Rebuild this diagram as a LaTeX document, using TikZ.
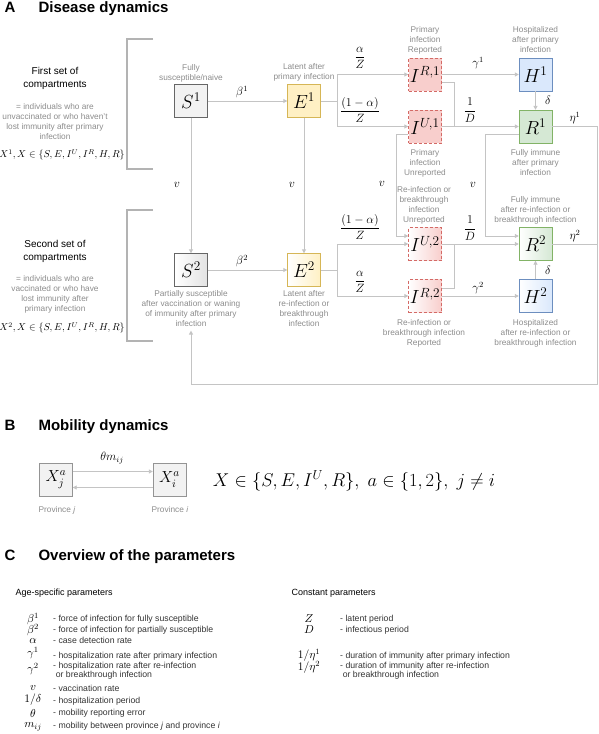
\documentclass[tikz,border=0pt]{standalone}
\usepackage{fix-cm}
\usepackage{amsmath}
\usepackage[no-math]{fontspec}
\setmainfont{Liberation Sans}
\usetikzlibrary{arrows.meta, positioning}

\definecolor{linegray}{HTML}{C4C4C4}
\definecolor{txtgray}{HTML}{8C8C8C}
\definecolor{brgray}{HTML}{B3B3B3}
\definecolor{sfill}{HTML}{F2F2F2}
\definecolor{sdraw}{HTML}{666666}
\definecolor{efill}{HTML}{FFF0C4}
\definecolor{edraw}{HTML}{D6B656}
\definecolor{ifill}{HTML}{F8CECC}
\definecolor{idraw}{HTML}{D46A66}
\definecolor{hfill}{HTML}{DAE8FC}
\definecolor{hdraw}{HTML}{6C8EBF}
\definecolor{rfill}{HTML}{D5E8D4}
\definecolor{rdraw}{HTML}{82B366}

\begin{document}
\begin{tikzpicture}[
    x=1pt, y=-1pt,
    box/.style={rectangle, draw, minimum size=33pt, inner sep=0pt, font=\fontsize{19}{22}\selectfont},
    sbox/.style={box, fill=sfill, draw=sdraw},
    ebox/.style={box, fill=efill, draw=edraw},
    ibox/.style={box, fill=ifill, draw=idraw, densely dashed},
    hbox/.style={box, fill=hfill, draw=hdraw},
    rbox/.style={box, fill=rfill, draw=rdraw},
    shaded/.style={left color=white, right color=#1},
    line/.style={draw=linegray, line width=0.9pt},
    arrow/.style={line, -{Triangle[length=4pt, width=4pt]}},
    bracket/.style={draw=brgray, line width=1.8pt},
    lbl/.style={font=\fontsize{8.3}{10}\selectfont, text=txtgray, align=center},
    sets/.style={font=\fontsize{10}{13}\selectfont, align=center},
    rate/.style={font=\fontsize{12}{14}\selectfont},
    title/.style={font=\fontsize{15}{18}\selectfont\bfseries, anchor=base west},
    head/.style={font=\fontsize{9}{11}\selectfont, anchor=west},
    sym/.style={font=\fontsize{11.5}{13}\selectfont, inner sep=1pt},
    desc/.style={font=\fontsize{8.7}{9.5}\selectfont, text=black!80, anchor=west, align=left, inner sep=1pt}
]
\useasboundingbox (0,0) rectangle (598,734);

% ============ A: DISEASE DYNAMICS ============
\node[title] (tA) at (1,12) {A};
\node[title] (tAname) at (35,12) {Disease dynamics};

% first set of compartments
\node[sets] (set1) at (55,78.5) {First set of\\compartments};
\node[lbl] (set1txt) at (55,122) {= individuals who are\\unvaccinated or who haven't\\lost immunity after primary\\infection};
\node[sets] (set1math) at (62,155) {$X^1, X\in\{S,E,I^U,I^R,H,R\}$};
\draw[bracket] (153,39) -- (127,39) -- (127,169) -- (153,169);

% second set of compartments
\node[sets] (set2) at (55,251) {Second set of\\compartments};
\node[lbl] (set2txt) at (55,294) {= individuals who are\\vaccinated or who have\\lost immunity after\\primary infection};
\node[sets] (set2math) at (62,328) {$X^2, X\in\{S,E,I^U,I^R,H,R\}$};
\draw[bracket] (153,210) -- (127,210) -- (127,341) -- (153,341);

% compartments, first set
\node[sbox] (S1) at (191,101) {$S^1$};
\node[ebox] (E1) at (304,101) {$E^1$};
\node[ibox] (IR1) at (425,74.5) {$I^{R,1}$};
\node[hbox] (H1) at (535.5,74.5) {$H^1$};
\node[ibox] (IU1) at (425,126.5) {$I^{U,1}$};
\node[rbox] (R1) at (535.5,126.5) {$R^1$};

% compartments, second set
\node[sbox, shaded=sfill!70!gray!60] (S2) at (191,270) {$S^2$};
\node[ebox, shaded=efill] (E2) at (304,270) {$E^2$};
\node[ibox, shaded=ifill] (IU2) at (425,244) {$I^{U,2}$};
\node[rbox, shaded=rfill] (R2) at (535.5,244) {$R^2$};
\node[ibox, shaded=ifill] (IR2) at (425,296) {$I^{R,2}$};
\node[hbox, shaded=hfill] (H2) at (535.5,296) {$H^2$};

% descriptions of the compartments
\node[lbl] (S1lbl) at (191,73) {Fully\\susceptible/naive};
\node[lbl] (E1lbl) at (304,72.5) {Latent after\\primary infection};
\node[lbl] (IR1lbl) at (425,40) {Primary\\infection\\Reported};
\node[lbl] (H1lbl) at (535.5,40) {Hospitalized\\after primary\\infection};
\node[lbl] (IU1lbl) at (425,163) {Primary\\infection\\Unreported};
\node[lbl] (R1lbl) at (535.5,163) {Fully immune\\after primary\\infection};
\node[lbl] (IU2lbl) at (424,205) {Re-infection or\\breakthrough\\infection\\Unreported};
\node[lbl] (R2lbl) at (535.5,210) {Fully immune\\after re-infection or\\breakthrough infection};
\node[lbl] (S2lbl) at (191,309) {Partially susceptible\\after vaccination or waning\\of immunity after primary\\infection};
\node[lbl] (E2lbl) at (304,309) {Latent after\\re-infection or\\breakthrough\\infection};
\node[lbl] (IR2lbl) at (424,333) {Re-infection or\\breakthrough infection\\Reported};
\node[lbl] (H2lbl) at (535.5,333) {Hospitalized\\after re-infection or\\breakthrough infection};

% rates
\node[rate] (b1) at (242,92) {$\beta^1$};
\node[rate] (b2) at (242,261) {$\beta^2$};
\node[rate] (v1) at (177,185) {$v$};
\node[rate] (v2) at (292,185) {$v$};
\node[rate] (v3) at (382,184) {$v$};
\node[rate] (v4) at (473,185) {$v$};
\node[rate] (a1) at (360,58) {$\dfrac{\alpha}{Z}$};
\node[rate] (na1) at (360,110) {$\dfrac{(1-\alpha)}{Z}$};
\node[rate] (na2) at (360,227) {$\dfrac{(1-\alpha)}{Z}$};
\node[rate] (a2) at (360,282) {$\dfrac{\alpha}{Z}$};
\node[rate] (g1) at (478,63) {$\gamma^1$};
\node[rate] (g2) at (478,288) {$\gamma^2$};
\node[rate] (D1) at (470,110) {$\dfrac{1}{D}$};
\node[rate] (D2) at (470,228) {$\dfrac{1}{D}$};
\node[rate] (dl1) at (548,100) {$\delta$};
\node[rate] (dl2) at (548,270) {$\delta$};
\node[rate] (et1) at (575,118) {$\eta^1$};
\node[rate] (et2) at (575,236) {$\eta^2$};

% flows, first set
\draw[arrow] (S1) -- (E1);
\draw[arrow] (S1) -- (S2);
\draw[arrow] (E1) -- (E2);
\coordinate (sp1) at (337,101);
\draw[line] (E1) -- (sp1);
\draw[arrow] (sp1) |- (IR1);
\draw[arrow] (sp1) |- (IU1);
\draw[arrow] (IR1) -- (H1);
\coordinate (jn1) at (454,126.5);
\draw[line] ([yshift=-8pt]IR1.east) -| (jn1);
\draw[arrow] (IU1) -- (R1);
\draw[arrow] (H1) -- (R1);
\draw[arrow] ([yshift=-7.5pt]IU1.west) -- ++(-12,0) |- ([yshift=8pt]IU2.west);
\draw[arrow] ([yshift=-7.5pt]R1.west) -- ++(-33,0) |- ([yshift=8pt]R2.west);

% flows, second set
\draw[arrow] (S2) -- (E2);
\coordinate (sp2) at (337,270);
\draw[line] (E2) -- (sp2);
\draw[arrow] (sp2) |- (IU2);
\draw[arrow] (sp2) |- (IR2);
\draw[arrow] (IR2) -- (H2);
\coordinate (jn2) at (454,244);
\draw[line] ([yshift=8pt]IR2.east) -| (jn2);
\draw[arrow] (IU2) -- (R2);
\draw[arrow] (H2) -- (R2);

% waning of immunity
\coordinate (back) at (597,384);
\draw[arrow] (R1) -| (back) -| (S2lbl.south);
\draw[line] (R2) -- (R2 -| back);

% ============ B: MOBILITY DYNAMICS ============
\node[title] (tB) at (1,430) {B};
\node[title] (tBname) at (35,430) {Mobility dynamics};

\node[sbox, draw=sdraw!70, font=\fontsize{16}{19}\selectfont] (Xj) at (56,479.5) {$X_j^a$};
\node[sbox, draw=sdraw!70, font=\fontsize{16}{19}\selectfont] (Xi) at (169.5,479.5) {$X_i^a$};
\node[rate] (mij) at (112,458) {$\theta m_{ij}$};
\draw[arrow] ([yshift=8pt]Xj.east) -- ([yshift=8pt]Xi.west);
\draw[arrow] ([yshift=-8pt]Xi.west) -- ([yshift=-8pt]Xj.east);
\node[lbl] (pj) at (57,510) {Province \textit{j}};
\node[lbl] (pi) at (170,510) {Province \textit{i}};
\node[font=\fontsize{18.5}{22}\selectfont] (xset) at (354,481) {$X \in \{S,E,I^U,R\},\ a\in\{1,2\},\ j\neq i$};

% ============ C: OVERVIEW OF THE PARAMETERS ============
\node[title] (tC) at (1,560) {C};
\node[title] (tCname) at (35,560) {Overview of the parameters};

% age-specific parameters
\node[head] (agehd) at (12,593) {Age-specific parameters};
\node[sym] (p1) at (33,619) {$\beta^1$};
\node[sym] (p2) at (33,630) {$\beta^2$};
\node[sym] (p3) at (33,641) {$\alpha$};
\node[sym] (p4) at (33,653) {$\gamma^1$};
\node[sym] (p5) at (33,669) {$\gamma^2$};
\node[sym] (p6) at (33,688) {$v$};
\node[sym] (p7) at (33,700) {$1/\delta$};
\node[sym] (p8) at (33,713) {$\theta$};
\node[sym] (p9) at (33,727) {$m_{ij}$};
\node[desc] (q1) at (52,619) {- force of infection for fully susceptible};
\node[desc] (q2) at (52,630) {- force of infection for partially susceptible};
\node[desc] (q3) at (52,640) {- case detection rate};
\node[desc] (q4) at (52,656) {- hospitalization rate after primary infection};
\node[desc] (q5) at (52,670.5) {- hospitalization rate after re-infection\\\hspace*{0.3em}or breakthrough infection};
\node[desc] (q6) at (52,688) {- vaccination rate};
\node[desc] (q7) at (52,701) {- hospitalization period};
\node[desc] (q8) at (52,713) {- mobility reporting error};
\node[desc] (q9) at (52,726) {- mobility between province \textit{j} and province \textit{i}};

% constant parameters
\node[head] (consthd) at (288,593) {Constant parameters};
\node[sym] (c1) at (309,619) {$Z$};
\node[sym] (c2) at (309,630) {$D$};
\node[sym] (c3) at (309,655) {$1/\eta^1$};
\node[sym] (c4) at (309,667) {$1/\eta^2$};
\node[desc] (k1) at (339,619) {- latent period};
\node[desc] (k2) at (339,630) {- infectious period};
\node[desc] (k3) at (339,656) {- duration of immunity after primary infection};
\node[desc] (k4) at (339,670.5) {- duration of immunity after re-infection\\\hspace*{0.3em}or breakthrough infection};

\end{tikzpicture}
\end{document}
